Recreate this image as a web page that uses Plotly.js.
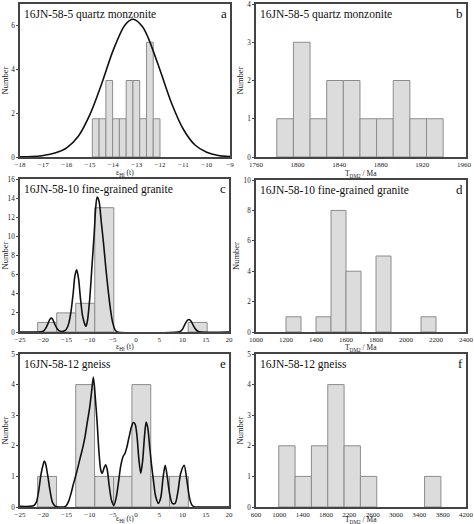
<!DOCTYPE html>
<html><head><meta charset="utf-8">
<script src="https://cdn.plot.ly/plotly-3.0.1.min.js"></script>
<style>html,body{margin:0;padding:0;background:#fff}</style>
</head><body><div id="chart" style="width:474px;height:524px"></div>
<script>
// ---------- DATA ----------
// Panel a: 16JN-58-5 quartz monzonite, eHf(t)
const aBinLeft = [-14.9, -14.61, -14.32, -14.03, -13.74, -13.45, -13.16, -12.87, -12.58, -12.29];
const aCounts  = [1.75, 1.75, 3.5, 1.75, 1.75, 3.5, 3.5, 1.75, 5.25, 1.75];
const aBinWidth = 0.29;
const aCurveX = [-18, -17.5, -17, -16.5, -16, -15.5, -15, -14.5, -14, -13.5, -13.15, -12.75, -12.5, -12, -11.5, -11, -10.5, -10, -9.5, -9];
const aCurveY = [0.01, 0.02, 0.07, 0.18, 0.42, 0.95, 1.95, 3.35, 4.9, 6.04, 6.3, 5.96, 5.44, 3.98, 2.45, 1.27, 0.55, 0.22, 0.07, 0.02];

// Panel b: 16JN-58-5 quartz monzonite, TDM2
const bBinLeft = [1780, 1796, 1812, 1828, 1844, 1860, 1876, 1892, 1908, 1924];
const bCounts  = [1, 3, 1, 2, 2, 1, 1, 2, 1, 1];
const bBinWidth = 16;

// Panel c: 16JN-58-10 fine-grained granite, eHf(t)
const cBinLeft = [-21.2, -17.1, -13.0, -8.9, 11.2];
const cCounts  = [1, 2, 3, 13, 1];
const cBinWidth = 4.1;
const cCurveX = [-25, -21, -20.5, -20, -19.5, -19, -18.6, -18.3, -18, -17.5, -17, -16.5, -16, -15.5, -15, -14.5, -14, -13.5, -13.2, -12.8, -12.4, -12, -11.5, -11, -10.8, -10.5, -10, -9.5, -9, -8.7, -8.4, -8, -7.5, -7, -6.5, -6, -5.5, -5, -4.5, -4, 9, 9.5, 10, 10.5, 11, 11.4, 11.8, 12.3, 12.8, 13.3, 14, 20];
const cCurveY = [0, 0, 0.02, 0.08, 0.35, 0.85, 1.3, 1.45, 1.35, 0.8, 0.35, 0.12, 0.05, 0.1, 0.3, 0.9, 2.2, 4.3, 5.8, 6.5, 5.6, 3.6, 1.6, 0.75, 0.6, 1.1, 3.4, 6.9, 10.5, 13.0, 14.1, 13.7, 11.5, 9.2, 6.6, 4.3, 2.3, 0.9, 0.2, 0, 0, 0.05, 0.3, 0.8, 1.2, 1.3, 1.15, 0.7, 0.3, 0.08, 0, 0];

// Panel d: 16JN-58-10 fine-grained granite, TDM2
const dBinLeft = [1200, 1400, 1500, 1600, 1800, 2100];
const dCounts  = [1, 1, 8, 4, 5, 1];
const dBinWidth = 100;

// Panel e: 16JN-58-12 gneiss, eHf(t)
const eBinLeft = [-21.2, -13.0, -8.9, -4.85, -0.9, 3.2, 7.2];
const eCounts  = [1, 4, 1, 1, 4, 1, 1];
const eBinWidth = 4.05;
const eCurveX = [-25, -23, -22, -21.5, -21, -20.5, -20, -19.76, -19.5, -19, -18.5, -18, -17.5, -17, -16, -15.5, -15, -14.5, -14, -13.5, -13, -12.5, -12, -11.5, -11, -10.5, -10, -9.6, -9.2, -8.8, -8.4, -8, -7.6, -7.3, -6.9, -6.55, -6.2, -5.8, -5.3, -4.8, -4.3, -3.8, -3.3, -2.8, -2.4, -2, -1.5, -1, -0.6, -0.2, 0.2, 0.6, 1.0, 1.4, 1.8, 2.16, 2.5, 2.9, 3.3, 3.7, 4.2, 4.8, 5.3, 5.8, 6.25, 6.7, 7.2, 7.8, 8.4, 9.0, 9.6, 10.35, 10.9, 11.5, 12, 12.5, 13, 20];
const eCurveY = [0.02, 0.02, 0.05, 0.15, 0.5, 1.05, 1.4, 1.5, 1.42, 1.0, 0.5, 0.15, 0.04, 0.01, 0, 0, 0.05, 0.2, 0.45, 0.75, 1.02, 1.32, 1.63, 1.93, 2.3, 2.78, 3.25, 3.75, 4.25, 3.6, 2.78, 1.8, 1.2, 1.1, 1.28, 1.38, 1.2, 0.7, 0.22, 0.05, 0.3, 0.8, 1.35, 1.65, 1.75, 1.95, 2.3, 2.62, 2.76, 2.7, 2.3, 1.55, 1.1, 1.5, 2.3, 2.78, 2.6, 2.0, 1.4, 0.9, 0.35, 0.12, 0.3, 0.95, 1.36, 1.0, 0.45, 0.12, 0.12, 0.5, 1.1, 1.36, 0.9, 0.3, 0.07, 0.01, 0, 0];

// Panel f: 16JN-58-12 gneiss, TDM2
const fBinLeft = [990, 1270, 1550, 1830, 2110, 2390, 3490];
const fCounts  = [2, 1, 2, 4, 2, 1, 1];
const fBinWidth = 280;

const panelTitles = ["16JN-58-5 quartz monzonite", "16JN-58-5 quartz monzonite",
  "16JN-58-10 fine-grained granite", "16JN-58-10 fine-grained granite",
  "16JN-58-12 gneiss", "16JN-58-12 gneiss"];
const panelLetters = ["a", "b", "c", "d", "e", "f"];
const xTitleHf = "ε<sub>Hf</sub> (t)";
const xTitleT = "T<sub>DM2</sub> / Ma";
const yTitle = "Number";

// ---------- LAYOUT ----------
const W = 474, H = 524;
const FONT = "Liberation Serif, Times New Roman, serif";
// pixel boxes [left, right, top, bottom]
const boxes = [
  [20, 230, 4, 157], [256, 466, 4, 157],
  [20, 229, 179, 332], [256, 466, 180, 332],
  [20, 229, 354, 507], [256, 466, 354, 507]
];
const xTitleY = [173, 174, 347, 348, 519, 520];
const xRanges = [[-18, -9], [1760, 1962], [-25, 20], [1000, 2400], [-25, 20], [600, 4200]];
const xTicks = [
  {tick0: -18, dtick: 1}, {tick0: 1760, dtick: 40},
  {tick0: -25, dtick: 5}, {tick0: 1000, dtick: 200},
  {tick0: -25, dtick: 5}, {tick0: 600, dtick: 400}
];
const yRanges = [[0, 7], [0, 4], [0, 16], [0, 10], [0, 5], [0, 5]];
const yD = [2, 1, 2, 2, 1, 1];
const xTitles = [xTitleHf, xTitleT, xTitleHf, xTitleT, xTitleHf, xTitleT];

const barColor = "#dcdcdc", barLine = "#8c8c8c";
const traces = [];
function addBars(i, left, counts, w) {
  const s = i === 0 ? "" : String(i + 1);
  traces.push({type: "bar", x: left, y: counts, width: w, offset: 0,
    xaxis: "x" + s, yaxis: "y" + s,
    marker: {color: barColor, line: {color: barLine, width: 1}}, hoverinfo: "skip"});
}
function addCurve(i, xs, ys) {
  const s = i === 0 ? "" : String(i + 1);
  traces.push({type: "scatter", mode: "lines", x: xs, y: ys, xaxis: "x" + s, yaxis: "y" + s,
    line: {color: "#111", width: 1.6, shape: "spline", smoothing: 0.8}, hoverinfo: "skip"});
}
addBars(0, aBinLeft, aCounts, aBinWidth); addCurve(0, aCurveX, aCurveY);
addBars(1, bBinLeft, bCounts, bBinWidth);
addBars(2, cBinLeft, cCounts, cBinWidth); addCurve(2, cCurveX, cCurveY);
addBars(3, dBinLeft, dCounts, dBinWidth);
addBars(4, eBinLeft, eCounts, eBinWidth); addCurve(4, eCurveX, eCurveY);
addBars(5, fBinLeft, fCounts, fBinWidth);

const layout = {
  width: W, height: H, margin: {l: 0, r: 0, t: 0, b: 0},
  paper_bgcolor: "#fff", plot_bgcolor: "#fff", showlegend: false, bargap: 0,
  font: {family: FONT, color: "#222", size: 7},
  annotations: []
};
for (let i = 0; i < 6; i++) {
  const s = i === 0 ? "" : String(i + 1);
  const b = boxes[i];
  layout["xaxis" + s] = {
    domain: [b[0] / W, b[1] / W], range: xRanges[i], anchor: "y" + s,
    tickmode: "linear", tick0: xTicks[i].tick0, dtick: xTicks[i].dtick,
    showgrid: false, zeroline: false, showline: true, mirror: true,
    linecolor: "#444", linewidth: 1.8, ticks: "",
    tickfont: {family: FONT, size: 7, color: "#222"},
    automargin: false
  };
  layout["yaxis" + s] = {
    domain: [1 - b[3] / H, 1 - b[2] / H], range: yRanges[i], anchor: "x" + s,
    tickmode: "linear", tick0: 0, dtick: yD[i],
    showgrid: false, zeroline: false, showline: true, mirror: true,
    linecolor: "#444", linewidth: 1.8, ticks: "outside", ticklen: 2, tickcolor: "#444",
    tickfont: {family: FONT, size: 7.2, color: "#222"},
    title: {text: yTitle, font: {family: FONT, size: 8.5, color: "#222"}, standoff: 2},
    automargin: false
  };
  layout.annotations.push({
    xref: "paper", yref: "paper", x: (b[0] + b[1]) / 2 / W, y: 1 - xTitleY[i] / H,
    xanchor: "center", yanchor: "middle", showarrow: false, text: xTitles[i],
    font: {family: FONT, size: 7.5, color: "#222"}
  });
  layout.annotations.push({
    xref: "x" + s + " domain", yref: "y" + s + " domain", x: 0.008, y: 0.985,
    xanchor: "left", yanchor: "top", showarrow: false, text: panelTitles[i],
    font: {family: FONT, size: 11.5, color: "#111"}
  });
  layout.annotations.push({
    xref: "x" + s + " domain", yref: "y" + s + " domain", x: 0.995, y: 1.0,
    xanchor: "right", yanchor: "top", showarrow: false, text: panelLetters[i],
    font: {family: FONT, size: 13, color: "#111"}
  });
}
Plotly.newPlot("chart", traces, layout, {staticPlot: true, displayModeBar: false});
</script></body></html>
